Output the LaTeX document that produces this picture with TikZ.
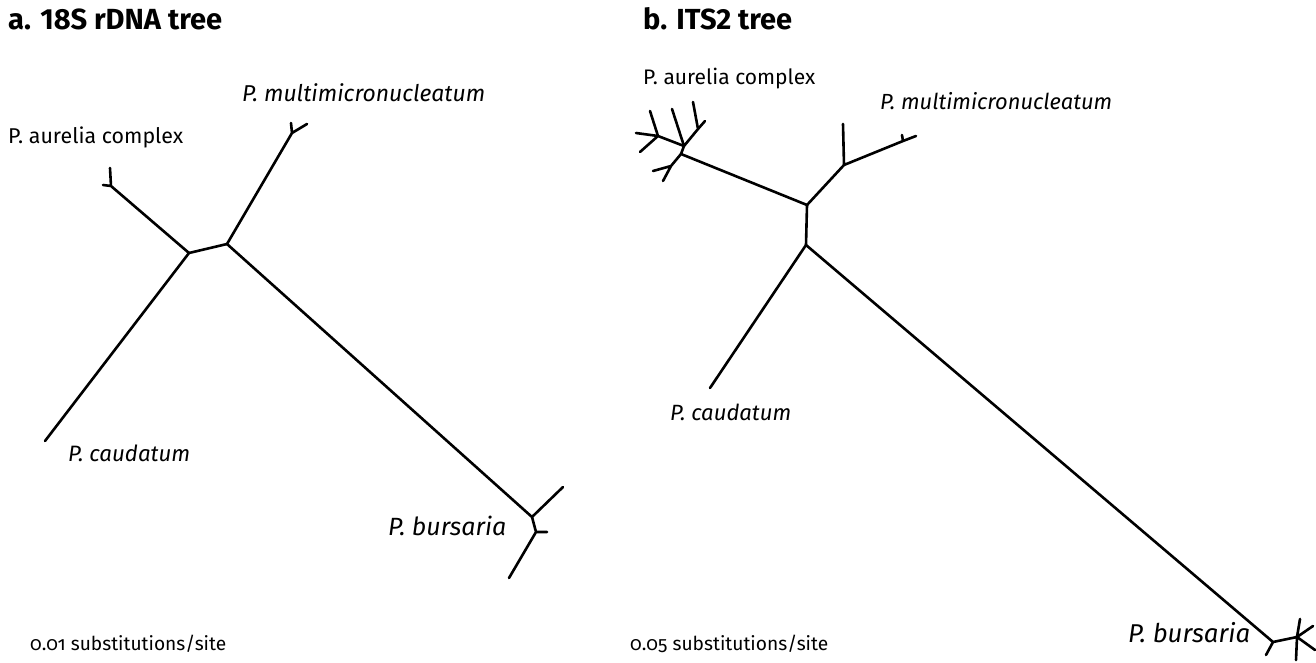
\documentclass[tikz,border=0pt]{standalone}
\usepackage{fontspec}
\usepackage{graphicx}
\setmainfont{Fira Sans}
\newfontfamily\scalefont[Numbers=OldStyle]{Fira Sans}
% set a label to a given printed width
\newcommand{\fitw}[2]{\resizebox{#1}{!}{#2}}
\begin{document}
\begin{tikzpicture}[x=1pt,y=-1pt,
  branch/.style={line width=2.6pt,line cap=round,line join=round},
  title/.style={anchor=base west,inner sep=0pt,font=\fontsize{20}{24}\selectfont\bfseries},
  taxon/.style={anchor=base west,inner sep=0pt,font=\fontsize{17}{20}\selectfont},
  taxonit/.style={taxon,font=\fontsize{17}{20}\selectfont\itshape},
  scalelbl/.style={anchor=base west,inner sep=0pt,font=\fontsize{16}{18}\scalefont}]
\useasboundingbox (0,0) rectangle (1316,663);

% ---------- a. 18S rDNA tree ----------
\node[title] (ta) at (8,30) {\fitw{214pt}{a. 18S rDNA tree}};
\coordinate (a1) at (189,253);
\coordinate (a2) at (227,244);
% P. aurelia complex
\coordinate (au) at (111,186);
\coordinate (au1) at (110,168);
\coordinate (au2) at (103,185);
% P. multimicronucleatum
\coordinate (mu) at (292,133);
\coordinate (mu1) at (291,123);
\coordinate (mu2) at (307,124);
% P. caudatum
\coordinate (ca) at (45,441);
% P. bursaria
\coordinate (bu) at (532,517);
\coordinate (bv) at (536,532);
\coordinate (bu1) at (563,487);
\coordinate (bv1) at (547,532);
\coordinate (bv2) at (509,578);

\draw[branch] (a1) -- (a2);
\draw[branch] (a1) -- (au) (au) -- (au1) (au) -- (au2);
\draw[branch] (a2) -- (mu) (mu) -- (mu1) (mu) -- (mu2);
\draw[branch] (a1) -- (ca);
\draw[branch] (a2) -- (bu) (bu) -- (bu1) (bu) -- (bv) (bv) -- (bv1) (bv) -- (bv2);

\node[taxon]   (la1) at (8,144)   {\fitw{175pt}{P. aurelia complex}};
\node[taxonit] (la2) at (242,102) {\fitw{243pt}{P. multimicronucleatum}};
\node[taxonit] (la3) at (68,461)  {\fitw{122pt}{P. caudatum}};
\node[taxonit] (la4) at (388,535) {\fitw{118pt}{P. bursaria}};
\node[scalelbl] (sa) at (30,650) {\fitw{196pt}{0.01 substitutions/site}};

% ---------- b. ITS2 tree ----------
\node[title] (tb) at (643,30) {\fitw{149pt}{b. ITS2 tree}};
\coordinate (c1) at (807,205);
\coordinate (c2) at (806,245);
% P. multimicronucleatum
\coordinate (m1) at (844,165);
\coordinate (m1a) at (843,124);
\coordinate (m2) at (903,141);
\coordinate (m2a) at (916,136);
\coordinate (m2b) at (902,135);
% P. aurelia complex
\coordinate (ua) at (681,154);
\coordinate (ub) at (684,146);
\coordinate (ub1) at (672,109);
\coordinate (uc) at (698,129);
\coordinate (uc1) at (693,102);
\coordinate (uc2) at (705,121);
\coordinate (uj) at (658,136);
\coordinate (uj1) at (650,111);
\coordinate (uj2) at (636,133);
\coordinate (uj3) at (640,152);
\coordinate (uk) at (671,166);
\coordinate (uk1) at (663,181);
\coordinate (uk2) at (653,171);
% P. caudatum
\coordinate (cd) at (710,388);
% P. bursaria
\coordinate (bs) at (1273,642);
\coordinate (bs1) at (1266,655);
\coordinate (bt) at (1297,637);
\coordinate (bt1) at (1300,619);
\coordinate (bt2) at (1313,626);
\coordinate (bt3) at (1315,650);
\coordinate (bt4) at (1296,660);

\draw[branch] (c1) -- (c2);
\draw[branch] (c1) -- (m1) (m1) -- (m1a) (m1) -- (m2) (m2) -- (m2a) (m2) -- (m2b);
\draw[branch] (c1) -- (ua) (ua) -- (ub) (ub) -- (ub1) (ub) -- (uc) (uc) -- (uc1) (uc) -- (uc2);
\draw[branch] (ub) -- (uj) (uj) -- (uj1) (uj) -- (uj2) (uj) -- (uj3);
\draw[branch] (ua) -- (uk) (uk) -- (uk1) (uk) -- (uk2);
\draw[branch] (c2) -- (cd);
\draw[branch] (c2) -- (bs) (bs) -- (bs1) (bs) -- (bt) (bt) -- (bt1) (bt) -- (bt2) (bt) -- (bt3) (bt) -- (bt4);

\node[taxon]   (lb1) at (643,85)   {\fitw{172pt}{P. aurelia complex}};
\node[taxonit] (lb2) at (880,110)  {\fitw{232pt}{P. multimicronucleatum}};
\node[taxonit] (lb3) at (670,420)  {\fitw{121pt}{P. caudatum}};
\node[taxonit] (lb4) at (1128,642) {\fitw{122pt}{P. bursaria}};
\node[scalelbl] (sb) at (630,650) {\fitw{198pt}{0.05 substitutions/site}};
\end{tikzpicture}
\end{document}
